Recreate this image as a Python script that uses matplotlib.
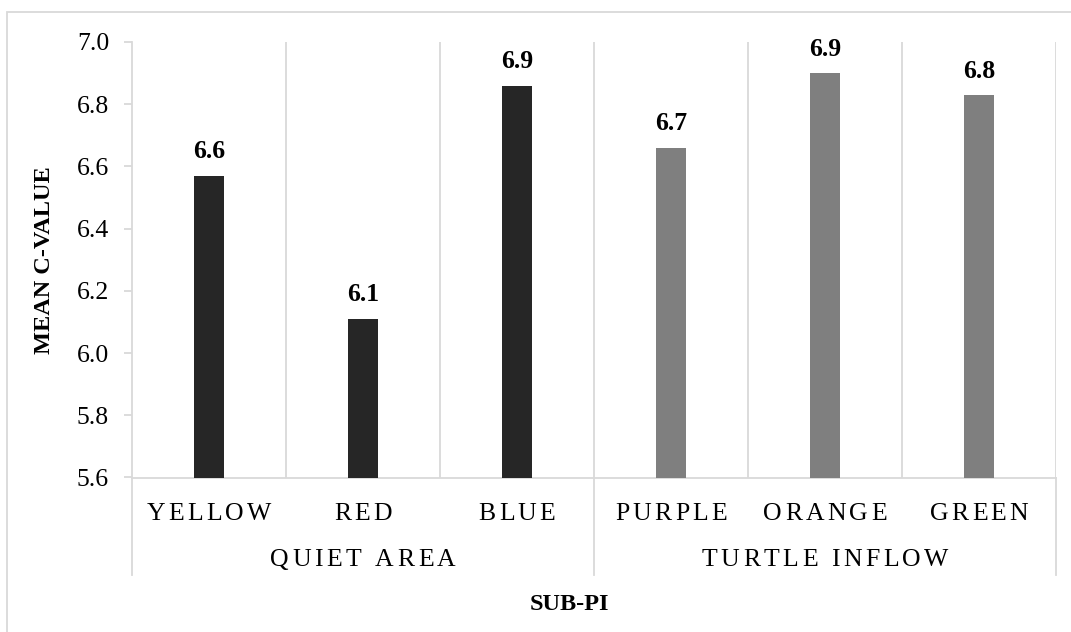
import matplotlib
matplotlib.use("Agg")
import matplotlib.pyplot as plt
from matplotlib.font_manager import FontProperties
from matplotlib.transforms import blended_transform_factory, offset_copy
from matplotlib.patches import Rectangle
from matplotlib.lines import Line2D

# ---- data ----
categories = ["YELLOW", "RED", "BLUE", "PURPLE", "ORANGE", "GREEN"]
groups = ["QUIET AREA", "TURTLE INFLOW"]
group_sizes = [3, 3]
mean_c = [6.57, 6.11, 6.86, 6.66, 6.90, 6.83]
bar_colors = ["#262626"] * 3 + ["#7f7f7f"] * 3
y_ticks = [5.6, 5.8, 6.0, 6.2, 6.4, 6.6, 6.8, 7.0]

FONT = ["Liberation Serif", "DejaVu Serif"]
LINE = "#d9d9d9"
DPI = 100

plt.rcParams["font.family"] = FONT

fig = plt.figure(figsize=(10.71, 6.32), dpi=DPI)
W, H = 1071, 632
ax = fig.add_axes([132 / W, 1 - 477.5 / H, (1056 - 132) / W, (477.5 - 42) / H])

x = list(range(len(categories)))
ax.bar(x, mean_c, width=0.19, color=bar_colors, bottom=0, zorder=3)
ax.set_xlim(-0.5, len(categories) - 0.5)
ax.set_ylim(y_ticks[0], y_ticks[-1])
ax.set_yticks(y_ticks)
ax.set_yticklabels([f"{t:.1f}" for t in y_ticks], fontsize=18.5)
ax.tick_params(axis="y", length=6, width=1.3, color=LINE, pad=10.5)
ax.set_xticks([])

for side in ["top", "right"]:
    ax.spines[side].set_visible(False)
for side in ["left", "bottom"]:
    ax.spines[side].set_color(LINE)
    ax.spines[side].set_linewidth(1.3)

# vertical separators between categories
for b in range(1, len(categories) + 1):
    ax.axvline(b - 0.5, color=LINE, lw=1.3, zorder=1)

# value labels above bars
for xi, v in zip(x, mean_c):
    ax.annotate(f"{v:.1f}", (xi, v), xytext=(0, 12.5), textcoords="offset points",
                ha="center", va="baseline", fontsize=18.5, fontweight="bold")

trans = blended_transform_factory(ax.transData, ax.transAxes)
axis_h = 477.5 - 42


def ypos(py):
    return (477.5 - py) / axis_h


# group separators extending below the axis
bounds = [-0.5]
for n in group_sizes:
    bounds.append(bounds[-1] + n)
for b in bounds:
    ax.add_line(Line2D([b, b], [0, ypos(575)], transform=trans, color=LINE,
                       lw=1.3, clip_on=False))

renderer = fig.canvas.get_renderer()


def spaced_text(xc, yc, s, size, spacing_px):
    fp = FontProperties(family=FONT, size=size)
    widths = []
    for ch in s:
        if ch == " ":
            w, _, _ = renderer.get_text_width_height_descent("a a", fp, ismath=False)
            w2, _, _ = renderer.get_text_width_height_descent("aa", fp, ismath=False)
            widths.append(w - w2)
        else:
            w, _, _ = renderer.get_text_width_height_descent(ch, fp, ismath=False)
            widths.append(w)
    total = sum(widths) + spacing_px * (len(s) - 1)
    off = -total / 2
    for ch, w in zip(s, widths):
        if ch != " ":
            t = offset_copy(trans, fig=fig, x=off * 72 / DPI, y=0, units="points")
            ax.text(xc, yc, ch, transform=t, ha="left", va="center_baseline",
                    fontproperties=fp, clip_on=False)
        off += w + spacing_px


for xi, name in zip(x, categories):
    spaced_text(xi, ypos(511), name, 18.5, 3.2)

start = 0
for g, n in zip(groups, group_sizes):
    center = start + (n - 1) / 2
    spaced_text(center, ypos(558), g, 18.5, 3.5)
    start += n

ax.set_ylabel("MEAN C-VALUE", fontsize=17.5, fontweight="bold")
ax.yaxis.set_label_coords((55 - 132) / (1056 - 132), 0.5)
fig.text(569 / W, 1 - 604 / H, "SUB-PI", ha="center", va="center",
         fontsize=17.5, fontweight="bold")

# outer chart frame
fig.patches.append(Rectangle((7 / W, -0.1), 1.2, 1 - 12 / H + 0.1,
                             transform=fig.transFigure, fill=False,
                             edgecolor=LINE, lw=1.3))

fig.savefig("out.png", dpi=DPI)
